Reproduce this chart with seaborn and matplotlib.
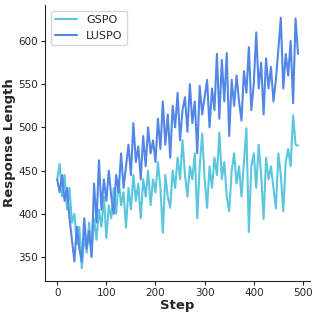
import numpy as np
import pandas as pd
import matplotlib
matplotlib.use('Agg')
import matplotlib.pyplot as plt
import seaborn as sns

# steps every 5
steps = list(range(0, 495, 5))

luspo = [440, 425, 445, 415, 430, 395, 370, 345, 385, 360,
         345, 395, 360, 380, 350, 435, 390, 462, 405, 440,
         415, 450, 420, 400, 445, 425, 470, 430, 455, 480,
         445, 505, 460, 478, 440, 490, 455, 500, 470, 485,
         460, 510, 475, 530, 480, 515, 465, 525, 500, 540,
         485, 520, 535, 495, 550, 505, 530, 470, 548, 515,
         535, 555, 500, 545, 520, 585, 510, 578, 530, 586,
         490, 555, 525, 560, 530, 508, 565, 540, 593, 520,
         550, 610, 545, 575, 515, 580, 545, 570, 530, 555,
         590, 627, 545, 585, 560, 600, 528, 626, 585]

gspo = [440, 458, 420, 445, 405, 430, 390, 400, 365, 385,
        337, 375, 355, 390, 353, 395, 370, 405, 385, 420,
        372, 410, 395, 430, 400, 440, 410, 425, 384, 430,
        405, 445, 415, 435, 395, 440, 420, 450, 410, 440,
        425, 460, 430, 378, 445, 420, 407, 450, 430, 465,
        440, 485, 445, 420, 455, 440, 470, 395, 455, 493,
        440, 407, 455, 430, 465, 445, 494, 440, 460, 420,
        403, 450, 470, 435, 455, 420, 460, 499, 379, 455,
        470, 430, 480, 445, 394, 465, 440, 455, 430, 406,
        470, 445, 403, 460, 475, 455, 514, 480, 479]

df = pd.DataFrame({
    'Step': steps * 2,
    'Response Length': gspo + luspo,
    'method': ['GSPO'] * len(gspo) + ['LUSPO'] * len(luspo),
})

sns.set_style('ticks')
fig, ax = plt.subplots(figsize=(3.18, 3.17), dpi=100)
sns.lineplot(data=df, x='Step', y='Response Length', hue='method',
             palette={'GSPO': '#5BC6DD', 'LUSPO': '#5287E6'},
             linewidth=1.5, ax=ax)
sns.despine()
ax.set_xticks([0, 100, 200, 300, 400, 500])
ax.set_yticks([350, 400, 450, 500, 550, 600])
ax.tick_params(labelsize=7.5, length=3, pad=2)
ax.set_xlabel('Step', fontsize=9.5, fontweight='bold', labelpad=1)
ax.set_ylabel('Response Length', fontsize=9.5, fontweight='bold', labelpad=2)
ax.legend(loc='upper left', fontsize=8, title=None)
fig.subplots_adjust(left=0.142, right=0.975, bottom=0.114, top=0.984)
fig.savefig('out.png', dpi=100)
